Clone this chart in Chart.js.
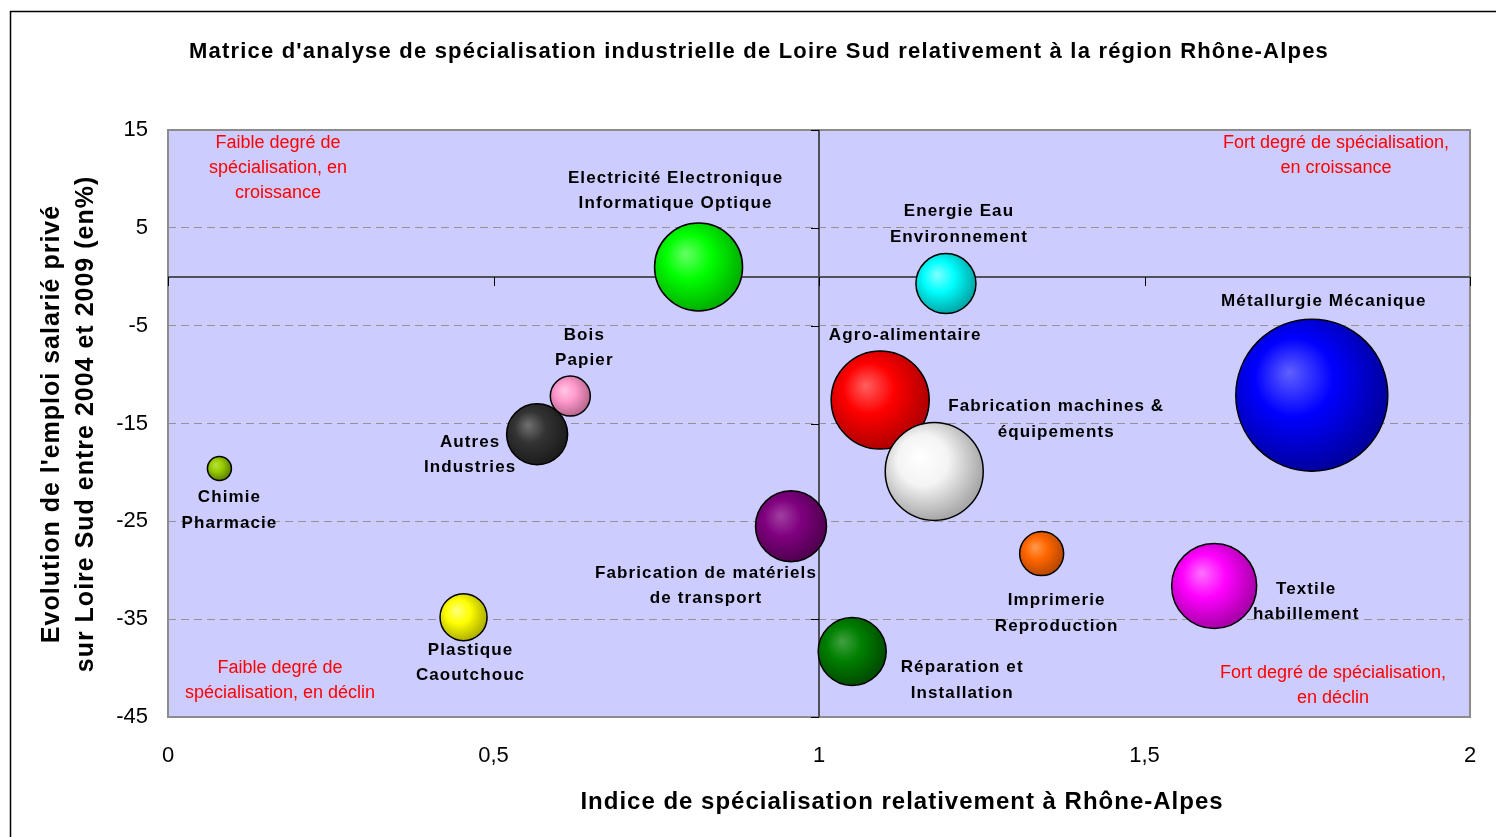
<!DOCTYPE html>
<html>
<head>
<meta charset="utf-8">
<script src="https://cdn.jsdelivr.net/npm/chart.js@4/dist/chart.umd.min.js"></script>
<style>
  html, body { margin: 0; padding: 0; background: #fff; }
  #wrap { width: 1496px; height: 837px; }
</style>
</head>
<body>
<div id="wrap"><canvas id="graph1" width="1496" height="837"></canvas></div>
<script>
// Data
var sectors = [
  'Electricité Electronique\nInformatique Optique',
  'Energie Eau\nEnvironnement',
  'Métallurgie Mécanique',
  'Agro-alimentaire',
  'Fabrication machines &\néquipements',
  'Bois\nPapier',
  'Autres\nIndustries',
  'Chimie\nPharmacie',
  'Fabrication de matériels\nde transport',
  'Imprimerie\nReproduction',
  'Textile\nhabillement',
  'Plastique\nCaoutchouc',
  'Réparation et\nInstallation'
];
var specIndex = [0.815, 1.195, 1.757, 1.094, 1.177, 0.618, 0.567, 0.079, 0.957, 1.342, 1.607, 0.454, 1.051];
var emploiEvol = [1.0, -0.7, -12.1, -12.6, -19.9, -12.2, -16.1, -19.6, -25.5, -28.3, -31.6, -34.8, -38.3];
var bubbleSize = [44, 30, 76, 49, 49, 20, 30.5, 12, 35.5, 22, 42.5, 23.5, 34];
var xTicks = [0, 0.5, 1, 1.5, 2];
var yTicks = [-45, -35, -25, -15, -5, 5, 15];

// colours: [highlight, base, edge]
var colors = [
  ['#66ff66', '#00ff00', '#00b000'],
  ['#80ffff', '#00ffff', '#00a8a8'],
  ['#6060ff', '#0000ff', '#0000a0'],
  ['#ff6060', '#ff0000', '#b00000'],
  ['#ffffff', '#f4f4f4', '#a8a8a8'],
  ['#ffc8e4', '#ff99cc', '#b86890'],
  ['#707070', '#333333', '#1c1c1c'],
  ['#b8e040', '#99cc00', '#5c8000'],
  ['#a040a0', '#800080', '#500050'],
  ['#ff9a50', '#ff6600', '#b84800'],
  ['#ff70ff', '#ff00ff', '#a800a8'],
  ['#ffff80', '#ffff00', '#b0b000'],
  ['#40a040', '#008000', '#004c00']
];

// label placement relative to bubble centre (dx, dy of first line)
var labelOffsets = [
  [-23, -89], [13, -72], [12, -94], [25, -65], [122, -65], [14, -61], [-67, 8],
  [10, 29], [-85, 47], [15, 47], [92, 3], [7, 33], [110, 16]
];

var FONT = '"Liberation Sans", Arial, sans-serif';

var points = specIndex.map(function (x, i) {
  return { x: x, y: emploiEvol[i], r: bubbleSize[i] };
});

function fmt(v) { return String(v).replace('.', ','); }

function bubbleFill(ctx) {
  var c = colors[ctx.dataIndex];
  var chart = ctx.chart;
  if (!chart.scales.x || !ctx.raw) return c[1];
  var cx = chart.scales.x.getPixelForValue(ctx.raw.x);
  var cy = chart.scales.y.getPixelForValue(ctx.raw.y);
  var r = ctx.raw.r;
  if (!isFinite(cx) || !isFinite(cy)) return c[1];
  var g = chart.ctx.createRadialGradient(cx - r * 0.3, cy - r * 0.3, 0, cx - r * 0.15, cy - r * 0.15, r * 1.15);
  g.addColorStop(0, c[0]);
  g.addColorStop(0.45, c[1]);
  g.addColorStop(1, c[2]);
  return g;
}

var framePlugin = {
  id: 'frame',
  beforeDraw: function (chart) {
    var ctx = chart.ctx, a = chart.chartArea, xs = chart.scales.x;
    ctx.save();
    ctx.fillStyle = '#fff';
    ctx.fillRect(0, 0, chart.width, chart.height);
    ctx.strokeStyle = '#000';
    ctx.lineWidth = 1.5;
    ctx.strokeRect(10.5, 11.5, 1600, 1000);
    ctx.fillStyle = '#ccccff';
    ctx.fillRect(a.left, a.top, a.right - a.left, a.bottom - a.top);
    ctx.fillStyle = '#000';
    ctx.textAlign = 'center';
    ctx.textBaseline = 'middle';
    // x tick labels
    ctx.font = '22px ' + FONT;
    xTicks.forEach(function (v) {
      ctx.fillText(fmt(v), xs.getPixelForValue(v), a.bottom + 39);
    });
    // title
    ctx.font = 'bold 22px ' + FONT;
    ctx.letterSpacing = '1.2px';
    ctx.fillText("Matrice d'analyse de spécialisation industrielle de Loire Sud relativement à la région Rhône-Alpes", 759, 52);
    // x title
    ctx.font = 'bold 24px ' + FONT;
    ctx.letterSpacing = '1px';
    ctx.fillText('Indice de spécialisation relativement à Rhône-Alpes', 902, 802);
    // y title
    ctx.font = 'bold 25px ' + FONT;
    ctx.translate(69, 424);
    ctx.rotate(-Math.PI / 2);
    ctx.fillText("Evolution de l'emploi salarié privé", 0, -17);
    ctx.fillText('sur Loire Sud entre 2004 et 2009 (en%)', 0, 17);
    ctx.restore();
  },
  beforeDatasetsDraw: function (chart) {
    var ctx = chart.ctx, a = chart.chartArea;
    var xs = chart.scales.x, ys = chart.scales.y;
    ctx.save();
    // plot border
    ctx.strokeStyle = '#8c8c8c';
    ctx.lineWidth = 2;
    ctx.strokeRect(a.left, a.top, a.right - a.left, a.bottom - a.top);
    // crossing axes at x=1 and y=0
    var x1 = Math.round(xs.getPixelForValue(1));
    var y0 = Math.round(ys.getPixelForValue(0));
    ctx.strokeStyle = '#50505c';
    ctx.lineWidth = 2;
    ctx.beginPath();
    ctx.moveTo(x1, a.top); ctx.lineTo(x1, a.bottom);
    ctx.moveTo(a.left, y0); ctx.lineTo(a.right, y0);
    ctx.stroke();
    ctx.strokeStyle = '#000';
    ctx.lineWidth = 1;
    ctx.beginPath();
    yTicks.forEach(function (v) {
      var p = Math.round(ys.getPixelForValue(v)) + 0.5;
      ctx.moveTo(x1 - 8, p); ctx.lineTo(x1, p);
    });
    xTicks.forEach(function (v) {
      var p = Math.round(xs.getPixelForValue(v)) + 0.5;
      ctx.moveTo(p, y0); ctx.lineTo(p, y0 + 9);
    });
    ctx.stroke();

    // quadrant notes
    ctx.fillStyle = '#ff0000';
    ctx.font = '18px ' + FONT;
    ctx.textAlign = 'center';
    ctx.textBaseline = 'middle';
    var notes = [
      [a.left + 110, a.top + 13, ['Faible degré de', 'spécialisation, en', 'croissance']],
      [a.right - 134, a.top + 13, ['Fort degré de spécialisation,', 'en croissance']],
      [a.left + 112, a.bottom - 49, ['Faible degré de', 'spécialisation, en déclin']],
      [a.right - 137, a.bottom - 44, ['Fort degré de spécialisation,', 'en déclin']]
    ];
    notes.forEach(function (n) {
      n[2].forEach(function (line, k) { ctx.fillText(line, n[0], n[1] + k * 25); });
    });
    ctx.restore();
  },
  afterDatasetsDraw: function (chart) {
    var ctx = chart.ctx;
    var meta = chart.getDatasetMeta(0);
    ctx.save();
    ctx.fillStyle = '#000';
    ctx.font = 'bold 17px ' + FONT;
    ctx.letterSpacing = '1.1px';
    ctx.textAlign = 'center';
    ctx.textBaseline = 'middle';
    meta.data.forEach(function (el, i) {
      var off = labelOffsets[i];
      sectors[i].split('\n').forEach(function (line, k) {
        ctx.fillText(line, el.x + off[0], el.y + off[1] + k * 25.5);
      });
    });
    ctx.restore();
  }
};

var ctx1 = document.getElementById('graph1').getContext('2d');
var graph1 = new Chart(ctx1, {
  type: 'bubble',
  data: {
    datasets: [{
      label: 'Secteurs',
      data: points,
      backgroundColor: bubbleFill,
      borderColor: '#000',
      borderWidth: 1.5,
      hoverRadius: 0
    }]
  },
  options: {
    responsive: false,
    animation: false,
    layout: { autoPadding: false, padding: { left: 108, top: 130, right: 26, bottom: 20 } },
    plugins: { legend: { display: false }, tooltip: { enabled: false } },
    scales: {
      x: {
        type: 'linear', min: 0, max: 2,
        afterFit: function (s) { s.height = 100; },
        afterBuildTicks: function (s) { s.ticks = xTicks.map(function (v) { return { value: v }; }); },
        grid: { display: false, drawTicks: false },
        border: { display: false },
        ticks: { display: false }
      },
      y: {
        type: 'linear', min: -45, max: 15,
        afterFit: function (s) { s.width = 60; },
        afterBuildTicks: function (s) { s.ticks = yTicks.map(function (v) { return { value: v }; }); },
        grid: {
          drawTicks: false,
          color: function (c) { return (c.tick && (c.tick.value === 15 || c.tick.value === -45)) ? 'rgba(0,0,0,0)' : '#939393'; },
          lineWidth: 1
        },
        border: { display: false, dash: [8, 5] },
        ticks: {
          padding: 20, color: '#000',
          font: { family: FONT, size: 22 }
        }
      }
    }
  },
  plugins: [framePlugin]
});
</script>
</body>
</html>
